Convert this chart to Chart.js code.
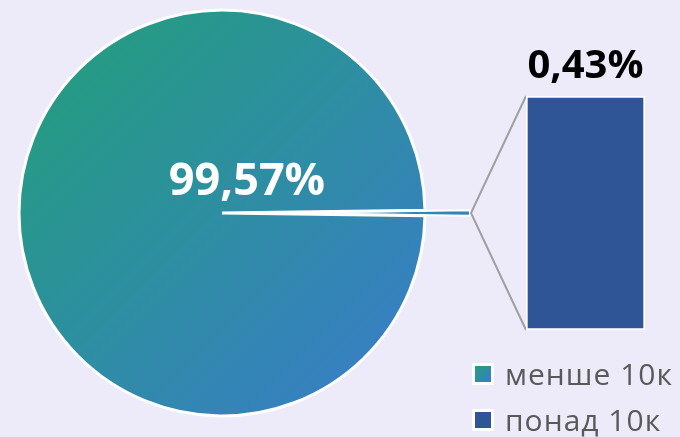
<!DOCTYPE html>
<html>
<head>
<meta charset="utf-8">
<script src="https://cdn.jsdelivr.net/npm/chart.js@4.4.1/dist/chart.umd.min.js"></script>
<style>
  html, body { margin: 0; padding: 0; background: #EDEAF9; }
  #wrap { position: relative; width: 680px; height: 437px; overflow: hidden; font-family: "Open Sans", sans-serif; }
  #pie { position: absolute; left: 0; top: 0; }
  #bar { position: absolute; left: 456px; top: 30px; }
  #legend { position: absolute; left: 472px; top: 351px; }
  .row { display: flex; align-items: center; height: 46px; }
  .sq { width: 16px; height: 16px; border: 3px solid #fff; margin-right: 11px; }
  .txt { font-size: 30px; line-height: 1; letter-spacing: 1px; color: #595959; white-space: nowrap; }
</style>
</head>
<body>
<div id="wrap">
  <canvas id="pie" width="680" height="437"></canvas>
  <canvas id="bar" width="224" height="310"></canvas>
  <div id="legend"></div>
</div>
<script>
const categories = ['менше 10к', 'понад 10к'];
const shares = [99.57, 0.43];
const valueLabels = ['99,57%', '0,43%'];

const gradStart = '#22A078';
const gradEnd = '#3A7BCC';
const barColor = '#2F5597';
const PIE_R = 203;
const EXPLODE = 45;   // pulled-out distance of the small slice
const BAR_LEFT = 456, BAR_TOP = 30;

// legend (html)
const legend = document.getElementById('legend');
categories.forEach((c, i) => {
  const row = document.createElement('div');
  row.className = 'row';
  const sq = document.createElement('span');
  sq.className = 'sq';
  sq.style.background = i === 0 ? `linear-gradient(135deg, ${gradStart}, ${gradEnd})` : barColor;
  const t = document.createElement('span');
  t.className = 'txt';
  t.textContent = c;
  row.appendChild(sq);
  row.appendChild(t);
  legend.appendChild(row);
});

// bar with the small share
const barLabel = {
  id: 'barLabel',
  afterDatasetsDraw(chart) {
    const bar = chart.getDatasetMeta(0).data[0];
    const ctx = chart.ctx;
    ctx.save();
    ctx.font = 'bold 40px "Open Sans"';
    ctx.fillStyle = '#000';
    ctx.textAlign = 'center';
    ctx.textBaseline = 'alphabetic';
    ctx.fillText(valueLabels[1], bar.x, bar.y - 18);
    ctx.restore();
  }
};

const barChart = new Chart(document.getElementById('bar'), {
  type: 'bar',
  data: {
    labels: [categories[1]],
    datasets: [{
      data: [shares[1]],
      backgroundColor: barColor,
      borderColor: '#fff',
      borderWidth: 2,
      borderSkipped: false,
      barPercentage: 1,
      categoryPercentage: 1
    }]
  },
  options: {
    responsive: false,
    animation: false,
    events: [],
    layout: { padding: { left: 70, right: 35, top: 66, bottom: 10 } },
    scales: {
      x: { display: false },
      y: { display: false, min: 0, max: shares[1] }
    },
    plugins: { legend: { display: false }, tooltip: { enabled: false } }
  },
  plugins: [barLabel]
});

// pie
function pieFill(context) {
  const area = context.chart.chartArea;
  if (!area) return gradStart;
  const cx = (area.left + area.right) / 2;
  const cy = (area.top + area.bottom) / 2;
  const g = context.chart.ctx.createLinearGradient(cx - PIE_R, cy - PIE_R, cx + PIE_R, cy + PIE_R);
  g.addColorStop(0, gradStart);
  g.addColorStop(1, gradEnd);
  return g;
}

const pieExtras = {
  id: 'pieExtras',
  beforeDatasetsDraw(chart) {
    // draw the small slice pulled out along its middle angle, under the big one
    const small = chart.getDatasetMeta(0).data[1];
    const mid = (small.startAngle + small.endAngle) / 2;
    const ctx = chart.ctx;
    ctx.save();
    ctx.translate(Math.cos(mid) * EXPLODE, Math.sin(mid) * EXPLODE);
    small.draw(ctx);
    ctx.restore();
    small.hidden = true;
  },
  afterDatasetsDraw(chart) {
    const meta = chart.getDatasetMeta(0);
    const big = meta.data[0];
    const small = meta.data[1];
    small.hidden = false;
    const ctx = chart.ctx;

    // connector lines from the pulled-out slice to the bar
    const mid = (small.startAngle + small.endAngle) / 2;
    const rr = small.outerRadius + EXPLODE + 1;
    const tipX = small.x + Math.cos(mid) * rr;
    const tipY = small.y + Math.sin(mid) * rr;
    const bar = barChart.getDatasetMeta(0).data[0];
    const bx = BAR_LEFT + bar.x - bar.width / 2;
    const by1 = BAR_TOP + bar.y;
    const by2 = BAR_TOP + bar.base;

    ctx.save();
    ctx.strokeStyle = '#A0A0A0';
    ctx.lineWidth = 2;
    ctx.beginPath();
    ctx.moveTo(bx, by1);
    ctx.lineTo(tipX, tipY);
    ctx.lineTo(bx, by2);
    ctx.stroke();

    ctx.font = 'bold 45px "Open Sans"';
    ctx.fillStyle = '#fff';
    ctx.textAlign = 'center';
    ctx.textBaseline = 'alphabetic';
    ctx.fillText(valueLabels[0], big.x + 25, big.y - 18);
    ctx.restore();
  }
};

new Chart(document.getElementById('pie'), {
  type: 'pie',
  data: {
    labels: categories,
    datasets: [{
      data: shares,
      backgroundColor: pieFill,
      borderColor: '#fff',
      borderWidth: [3, 2],
      radius: PIE_R,
      clip: false
    }]
  },
  options: {
    responsive: false,
    animation: false,
    events: [],
    rotation: 90 + shares[1] / (shares[0] + shares[1]) * 180,
    layout: { padding: { left: 0, top: 0, right: 236, bottom: 11 } },
    plugins: { legend: { display: false }, tooltip: { enabled: false } }
  },
  plugins: [pieExtras]
});
</script>
</body>
</html>
